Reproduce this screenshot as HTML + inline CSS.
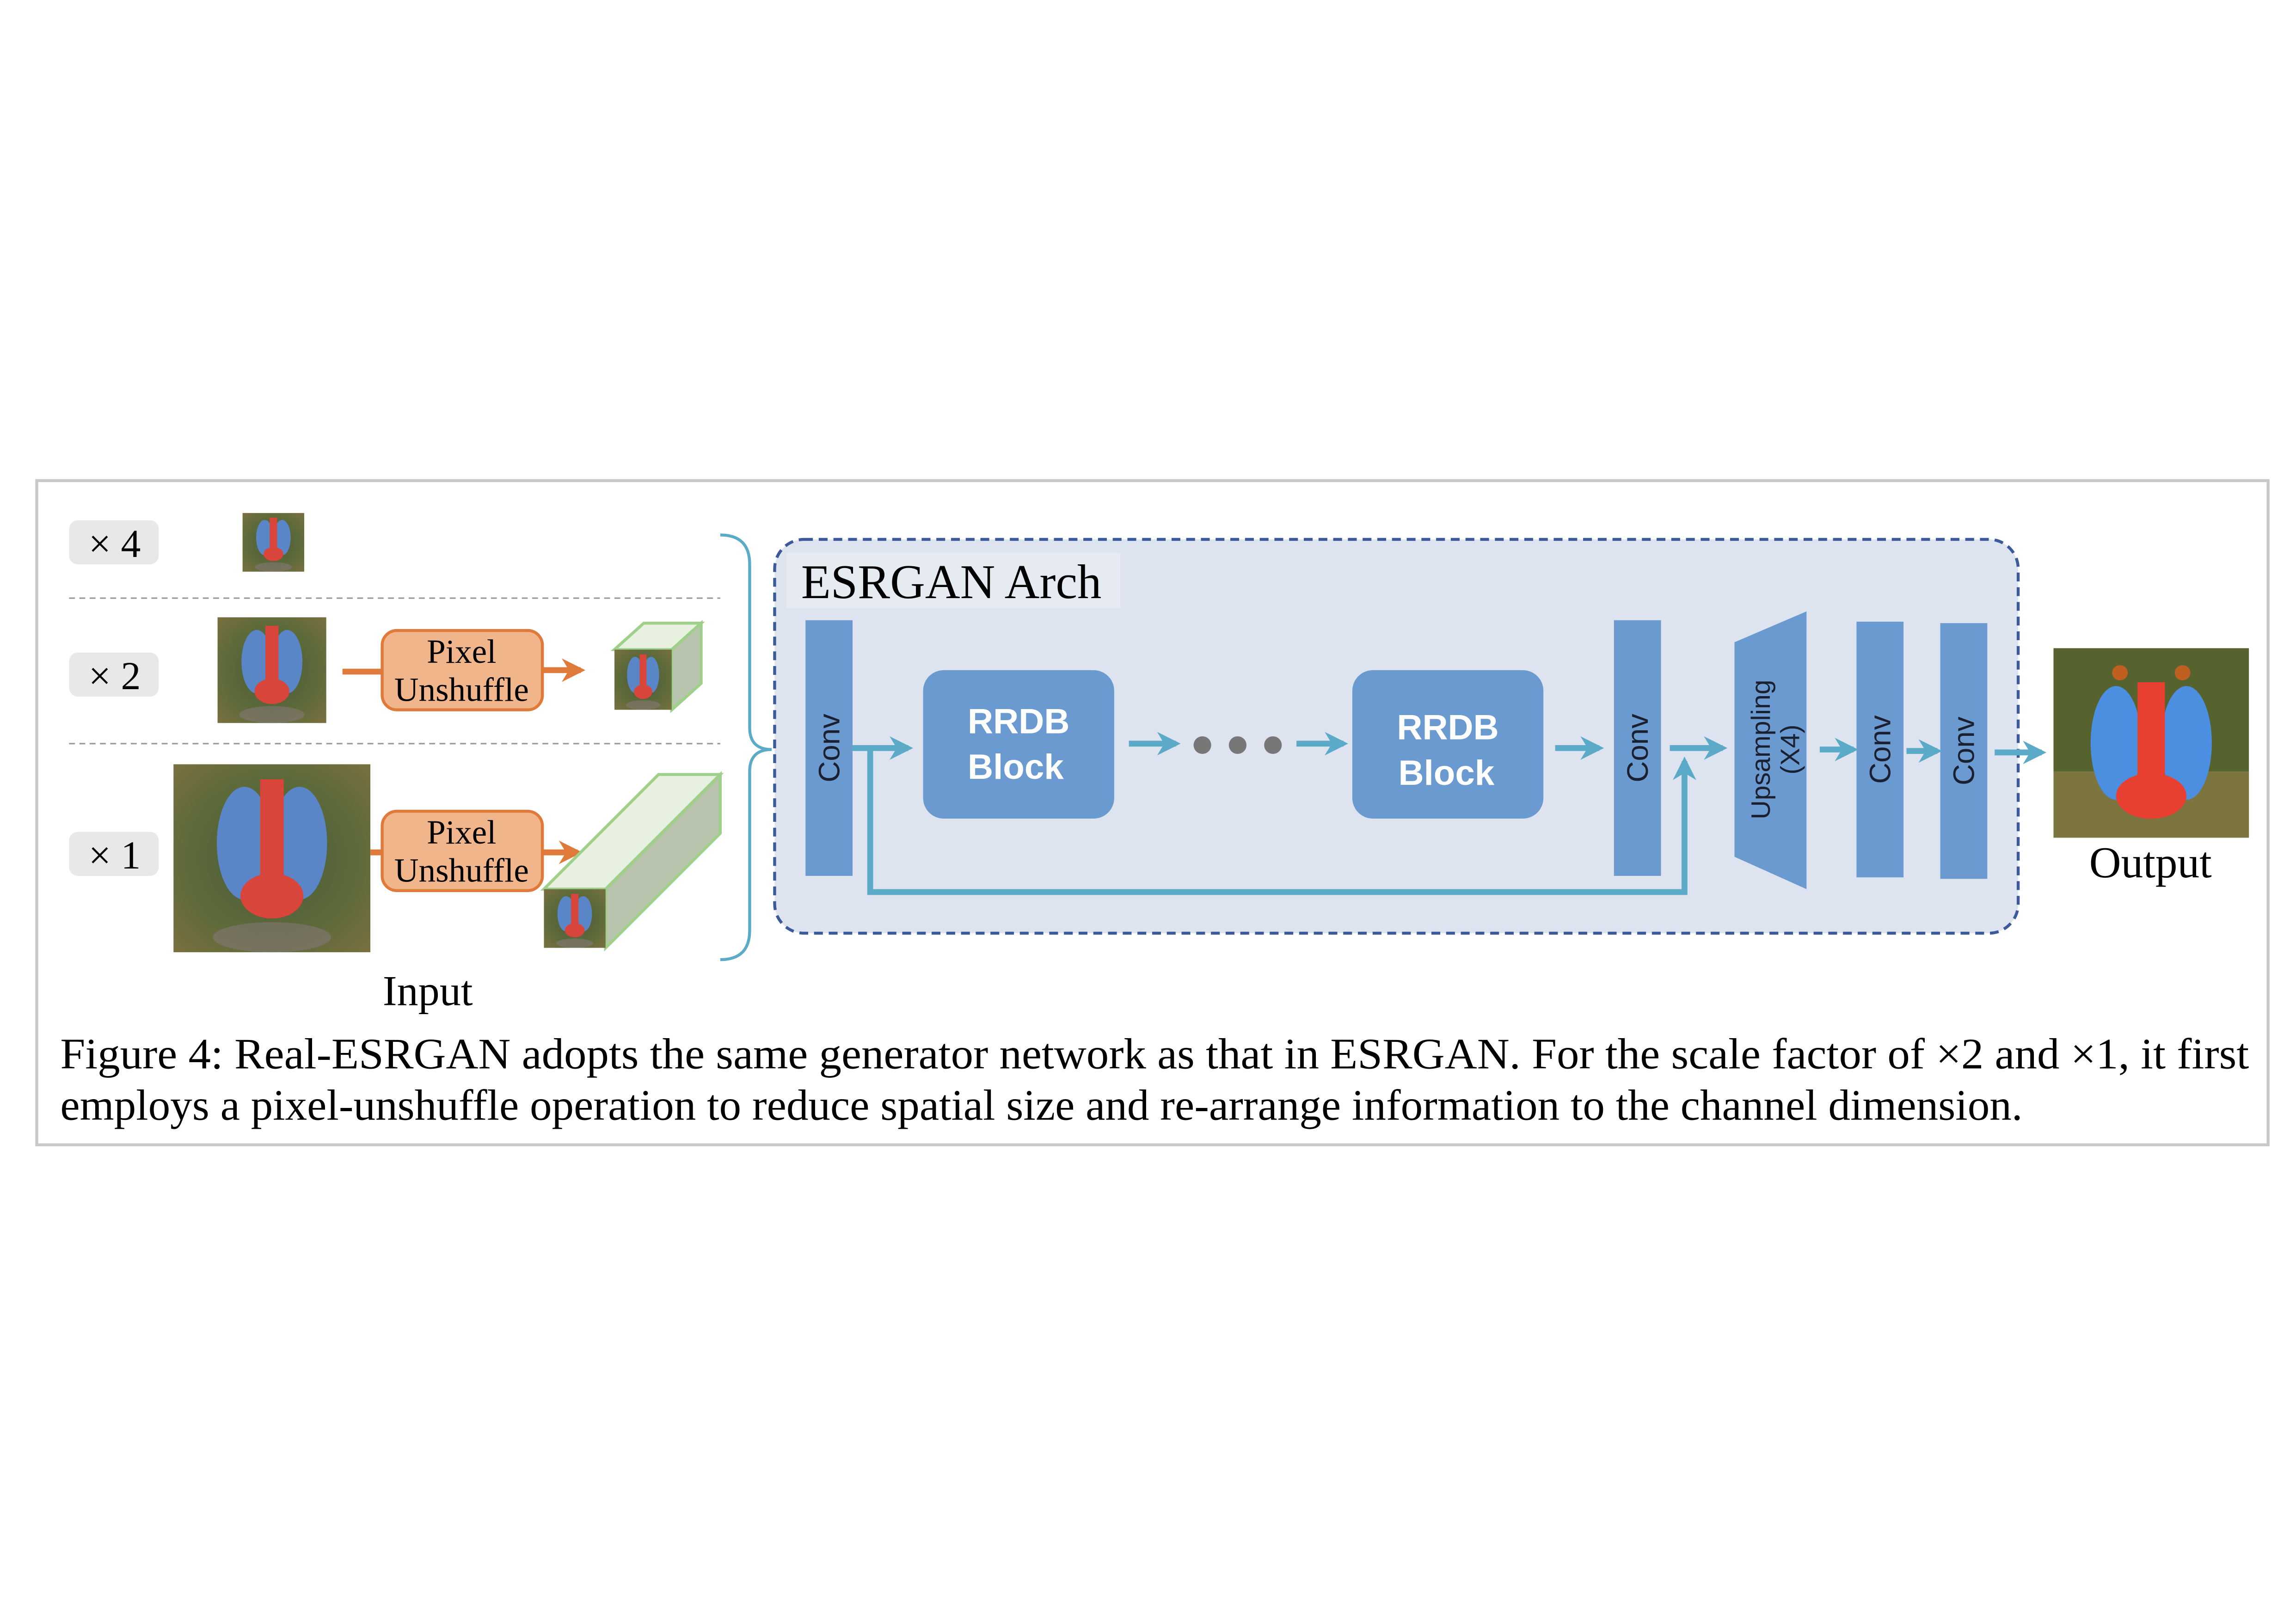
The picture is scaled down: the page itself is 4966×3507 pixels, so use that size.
<!DOCTYPE html>
<html><head><meta charset="utf-8"><style>
html,body{margin:0;padding:0;background:#fff;}
svg{display:block;}
</style></head><body>
<svg width="4966" height="3507" viewBox="0 0 1562 1103" xmlns="http://www.w3.org/2000/svg">
<defs>
<radialGradient id="fur" cx="50%" cy="50%" r="70%">
<stop offset="0" stop-color="#4a5a3a"/><stop offset="0.6" stop-color="#5d6a3a"/><stop offset="1" stop-color="#7a7040"/>
</radialGradient>
<symbol id="bab" viewBox="0 0 100 100" preserveAspectRatio="none">
<rect width="100" height="100" fill="url(#fur)"/>
<ellipse cx="36" cy="42" rx="14" ry="30" fill="#5a86c8"/>
<ellipse cx="64" cy="42" rx="14" ry="30" fill="#5a86c8"/>
<rect x="44" y="8" width="12" height="60" fill="#d8453a"/>
<ellipse cx="50" cy="70" rx="16" ry="12" fill="#d8453a"/>
<ellipse cx="50" cy="92" rx="30" ry="8" fill="#8a7a80" opacity="0.5"/>
</symbol>
<symbol id="bab2" viewBox="0 0 100 100" preserveAspectRatio="none">
<rect width="100" height="100" fill="#56632f"/>
<rect x="0" y="65" width="100" height="35" fill="#7d7540"/>
<circle cx="34" cy="13" r="4" fill="#c06020"/><circle cx="66" cy="13" r="4" fill="#c06020"/>
<ellipse cx="32" cy="50" rx="13" ry="30" fill="#4c8ee0"/>
<ellipse cx="68" cy="50" rx="13" ry="30" fill="#4c8ee0"/>
<rect x="43" y="18" width="14" height="60" fill="#e84030"/>
<ellipse cx="50" cy="78" rx="18" ry="12" fill="#e84030"/>
</symbol>
<marker id="ah" viewBox="0 0 10 10" refX="8" refY="5" markerWidth="4" markerHeight="4" orient="auto"><path d="M0,0 L10,5 L0,10 L3,5z" fill="#5aaac8"/></marker>
<marker id="ao" viewBox="0 0 10 10" refX="8" refY="5" markerWidth="4" markerHeight="4" orient="auto"><path d="M0,0 L10,5 L0,10 L3,5z" fill="#e07a3a"/></marker>
</defs>
<rect x="25" y="327" width="1518" height="452" fill="#fff" stroke="#c8c8c8" stroke-width="2"/>
<g font-family="Liberation Serif,serif" font-size="27" fill="#000" text-anchor="middle">
<rect x="47" y="354" width="61" height="30" rx="6" fill="#e8e8e8"/><text x="78" y="379">× 4</text>
<rect x="47" y="444" width="61" height="30" rx="6" fill="#e8e8e8"/><text x="78" y="469">× 2</text>
<rect x="47" y="566" width="61" height="30" rx="6" fill="#e8e8e8"/><text x="78" y="591">× 1</text>
</g>
<line x1="47" y1="407" x2="490" y2="407" stroke="#999" stroke-dasharray="4,3"/>
<line x1="47" y1="506" x2="490" y2="506" stroke="#999" stroke-dasharray="4,3"/>
<use href="#bab" x="165" y="349" width="42" height="40"/>
<use href="#bab" x="148" y="420" width="74" height="72"/>
<use href="#bab" x="118" y="520" width="134" height="128"/>
<g font-family="Liberation Serif,serif" font-size="23" text-anchor="middle">
<line x1="233" y1="457" x2="260" y2="457" stroke="#e07a3a" stroke-width="4"/>
<rect x="260" y="429" width="109" height="54" rx="10" fill="#f0b58a" stroke="#e07a3a" stroke-width="2"/>
<text x="314" y="451">Pixel</text><text x="314" y="477">Unshuffle</text>
<line x1="369" y1="456" x2="395" y2="456" stroke="#e07a3a" stroke-width="4" marker-end="url(#ao)"/>
<line x1="252" y1="580" x2="260" y2="580" stroke="#e07a3a" stroke-width="4"/>
<rect x="260" y="552" width="109" height="54" rx="10" fill="#f0b58a" stroke="#e07a3a" stroke-width="2"/>
<text x="314" y="574">Pixel</text><text x="314" y="600">Unshuffle</text>
<line x1="369" y1="580" x2="393" y2="580" stroke="#e07a3a" stroke-width="4" marker-end="url(#ao)"/>
</g>
<g stroke="#9ed08a" stroke-width="2">
<polygon points="418,442 438,424 477,424 457,442" fill="#e8f0e0"/>
<polygon points="457,442 477,424 477,465 457,483" fill="#b8c4ae"/>
<polygon points="370,605 448,527 490,527 412,605" fill="#e8f0e0"/>
<polygon points="412,605 490,527 490,567 412,645" fill="#b8c4ae"/>
</g>
<use href="#bab" x="418" y="442" width="39" height="41"/>
<use href="#bab" x="370" y="605" width="42" height="40"/>
<text x="291" y="684" font-family="Liberation Serif,serif" font-size="29" text-anchor="middle">Input</text>
<path d="M490,364 Q510,364 510,384 L510,495 Q510,510 525,510 Q510,510 510,525 L510,633 Q510,653 490,653" fill="none" stroke="#5aaac8" stroke-width="2"/>
<rect x="527" y="367" width="846" height="268" rx="20" fill="#dde4f0" stroke="#3a5a9a" stroke-width="2" stroke-dasharray="6,4"/>
<rect x="535" y="376" width="227" height="38" fill="#e6eaf1"/>
<text x="545" y="407" font-family="Liberation Serif,serif" font-size="33">ESRGAN Arch</text>
<g fill="#6b9ad0">
<rect x="548" y="422" width="32" height="174"/>
<rect x="628" y="456" width="130" height="101" rx="14"/>
<rect x="920" y="456" width="130" height="101" rx="14"/>
<rect x="1098" y="422" width="32" height="174"/>
<polygon points="1180,437 1229,416 1229,605 1180,583"/>
<rect x="1263" y="423" width="32" height="174"/>
<rect x="1320" y="424" width="32" height="174"/>
</g>
<g font-family="Liberation Sans,sans-serif" font-size="20" fill="#1a2030" text-anchor="middle">
<text transform="translate(571,509) rotate(-90)">Conv</text>
<text transform="translate(1121,509) rotate(-90)">Conv</text>
<text transform="translate(1286,510) rotate(-90)">Conv</text>
<text transform="translate(1343,511) rotate(-90)">Conv</text>
<text transform="translate(1204,510) rotate(-90)" font-size="18">Upsampling</text>
<text transform="translate(1224,510) rotate(-90)" font-size="18">(X4)</text>
</g>
<g font-family="Liberation Sans,sans-serif" font-size="24" font-weight="bold" fill="#fff" text-anchor="middle">
<text x="693" y="499">RRDB</text><text x="691" y="530">Block</text>
<text x="985" y="503">RRDB</text><text x="984" y="534">Block</text>
</g>
<g stroke="#5aaac8" stroke-width="4" fill="none">
<line x1="580" y1="509" x2="618" y2="509" marker-end="url(#ah)"/>
<line x1="768" y1="506" x2="800" y2="506" marker-end="url(#ah)"/>
<line x1="882" y1="506" x2="914" y2="506" marker-end="url(#ah)"/>
<line x1="1058" y1="509" x2="1088" y2="509" marker-end="url(#ah)"/>
<line x1="1136" y1="509" x2="1172" y2="509" marker-end="url(#ah)"/>
<polyline points="592,509 592,607 1146,607 1146,518" marker-end="url(#ah)"/>
<line x1="1238" y1="510" x2="1261" y2="510" marker-end="url(#ah)"/>
<line x1="1297" y1="511" x2="1318" y2="511" marker-end="url(#ah)"/>
<line x1="1357" y1="512" x2="1389" y2="512" marker-end="url(#ah)"/>
</g>
<g fill="#777"><circle cx="818" cy="507" r="6"/><circle cx="842" cy="507" r="6"/><circle cx="866" cy="507" r="6"/></g>
<use href="#bab2" x="1397" y="441" width="133" height="129"/>
<text x="1463" y="597" font-family="Liberation Serif,serif" font-size="30" text-anchor="middle">Output</text>
<g font-family="Liberation Serif,serif" font-size="29.5">
<text x="41" y="727" textLength="1489" lengthAdjust="spacingAndGlyphs">Figure 4: Real-ESRGAN adopts the same generator network as that in ESRGAN. For the scale factor of ×2 and ×1, it first</text>
<text x="41" y="762" textLength="1335" lengthAdjust="spacingAndGlyphs">employs a pixel-unshuffle operation to reduce spatial size and re-arrange information to the channel dimension.</text>
</g>
</svg>
</body></html>
